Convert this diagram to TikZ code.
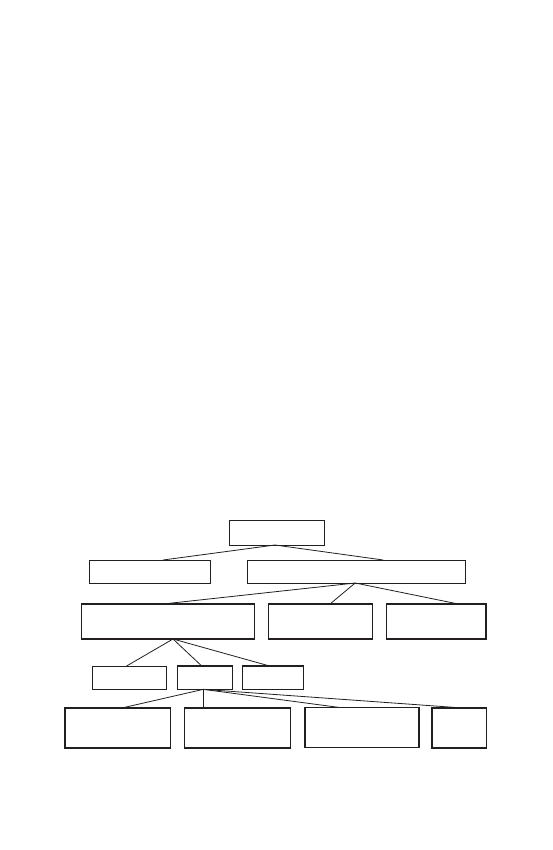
\documentclass[tikz,border=0pt]{standalone}
\usepackage{tikz}
\usetikzlibrary{positioning}
\definecolor{Ink}{HTML}{231F20}
\tikzset{
  box/.style={draw=Ink, line width=0.8pt, inner sep=0pt, outer sep=0pt, fill=white},
  heavy/.style={line width=1.6pt},
  medium/.style={line width=1.15pt},
  link/.style={draw=Ink, line width=0.8pt},
}

\begin{document}
\begin{tikzpicture}[x=1pt, y=-1pt]
  \useasboundingbox (0,0) rectangle (553,850);

  % top of the tree
  \node[box, minimum width=95pt, minimum height=25pt] (root) at (276.5,532.5) {};
  \node[box, line width=0.9pt, minimum width=121pt, minimum height=23pt] (left) at (150,571.5) {};
  \node[box, line width=0.9pt, minimum width=217.5pt, minimum height=23pt] (right) at (356.2,571.5) {};

  % second row
  \node[box, medium, minimum width=172.5pt, minimum height=35pt] (wide) at (168,621.5) {};
  \node[box, medium, minimum width=103.5pt, minimum height=35pt] (mid) at (320.5,621.5) {};
  \node[box, heavy, minimum width=99.3pt, minimum height=35pt] (end) at (436.3,621.5) {};

  % third row
  \node[box, minimum width=74.4pt, minimum height=23.3pt] (smallA) at (129.5,677.7) {};
  \node[box, heavy, minimum width=55pt, minimum height=23.3pt] (smallB) at (204.8,677.7) {};
  \node[box, medium, minimum width=61pt, minimum height=23.3pt] (smallC) at (272.8,677.7) {};

  % bottom row
  \node[box, heavy, minimum width=105.7pt, minimum height=40pt] (leafA) at (117.8,728) {};
  \node[box, heavy, minimum width=106pt, minimum height=40pt] (leafB) at (237.3,727.7) {};
  \node[box, heavy, minimum width=114pt, minimum height=40pt] (leafC) at (361.7,727.5) {};
  \node[box, heavy, minimum width=54.6pt, minimum height=40pt] (leafD) at (459,728) {};

  \draw[link] ([xshift=-1.5pt]root.south) -- ([xshift=13pt]left.north);
  \draw[link] ([xshift=-1.5pt]root.south) -- ([xshift=27pt]right.north);

  \draw[link] ([xshift=-1pt]right.south) -- ([xshift=-5pt]wide.north);
  \draw[link] ([xshift=-1pt]right.south) -- ([xshift=9.5pt]mid.north);
  \draw[link] ([xshift=-1pt]right.south) -- ([xshift=22pt]end.north);

  \draw[link] ([xshift=5pt]wide.south) -- ([xshift=-3pt]smallA.north);
  \draw[link] ([xshift=5pt]wide.south) -- ([xshift=-3pt]smallB.north);
  \draw[link] ([xshift=5pt]wide.south) -- ([xshift=-3pt]smallC.north);

  \draw[link] ([xshift=-1.5pt]smallB.south) -- ([xshift=4pt]leafA.north);
  \draw[link] ([xshift=-1.5pt]smallB.south) -- ([xshift=-34pt]leafB.north);
  \draw[link] ([xshift=-1.5pt]smallB.south) -- ([xshift=-22pt]leafC.north);
  \draw[link] ([xshift=-1.5pt]smallB.south) -- ([xshift=4pt]leafD.north);
\end{tikzpicture}
\end{document}
